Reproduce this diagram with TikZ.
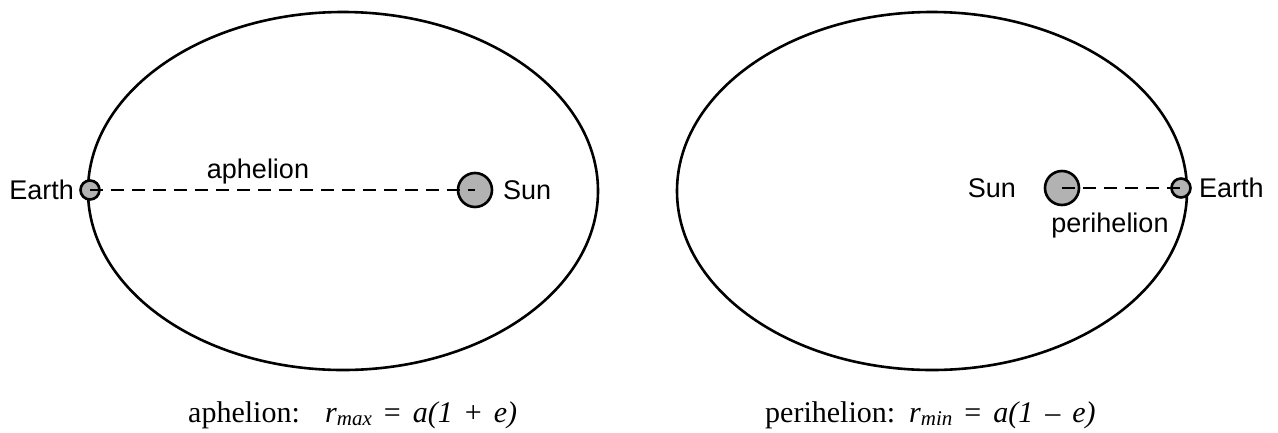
\documentclass[tikz,border=0pt]{standalone}
\usepackage{fontspec}
\setmainfont{Liberation Serif}
\setsansfont{Liberation Sans}
\newcommand{\fsp}{\hspace{0.4em}}
\begin{document}
\begin{tikzpicture}[x=1pt,y=-1pt,
  orbit/.style={line width=2.6pt},
  body/.style={circle,draw,line width=2.6pt,fill=black!30,inner sep=0pt},
  dline/.style={line width=2.6pt,dash pattern=on 13pt off 8pt},
  lbl/.style={font=\sffamily\fontsize{27}{30}\selectfont,inner sep=0pt},
  formula/.style={font=\fontsize{30}{35}\selectfont,inner sep=0pt,anchor=base west}]
\useasboundingbox (0,0) rectangle (1278,432);
\draw[orbit] (343,191) ellipse [x radius=255, y radius=179];
\draw[orbit] (932,191) ellipse [x radius=255, y radius=179];
% left
\node[body,minimum size=19pt] (e1) at (90,190) {};
\node[body,minimum size=34pt] (s1) at (475,190) {};
\draw[dline] (e1.center) -- (s1.center);
\node[lbl,anchor=east] (te1) at (74,190) {Earth};
\node[lbl,anchor=west] (ts1) at (503,190) {Sun};
\node[lbl] (ap) at (258,172) {aphelion};
% right
\node[body,minimum size=34pt] (s2) at (1062,188) {};
\node[body,minimum size=19pt] (e2) at (1181,188) {};
\draw[dline] (s2.center) -- (e2.center);
\node[lbl,anchor=east] (ts2) at (1016,188) {Sun};
\node[lbl,anchor=west] (te2) at (1199,188) {Earth};
\node[lbl] (pe) at (1110,226) {perihelion};
% formulas
\node[formula] (f1) at (188,422) {aphelion:};
\node[formula] (f1b) at (325,422) {\textit{r}\raisebox{-0.25ex}{\itshape\fontsize{21}{23}\selectfont max}\fsp=\fsp\textit{a(1}\fsp+\fsp\textit{e)}};
\node[formula] (f2) at (765,422) {perihelion:};
\node[formula] (f2b) at (909,422) {\textit{r}\raisebox{-0.25ex}{\itshape\fontsize{21}{23}\selectfont min}\fsp=\fsp\textit{a(1}\fsp–\fsp\textit{e)}};
\end{tikzpicture}
\end{document}
